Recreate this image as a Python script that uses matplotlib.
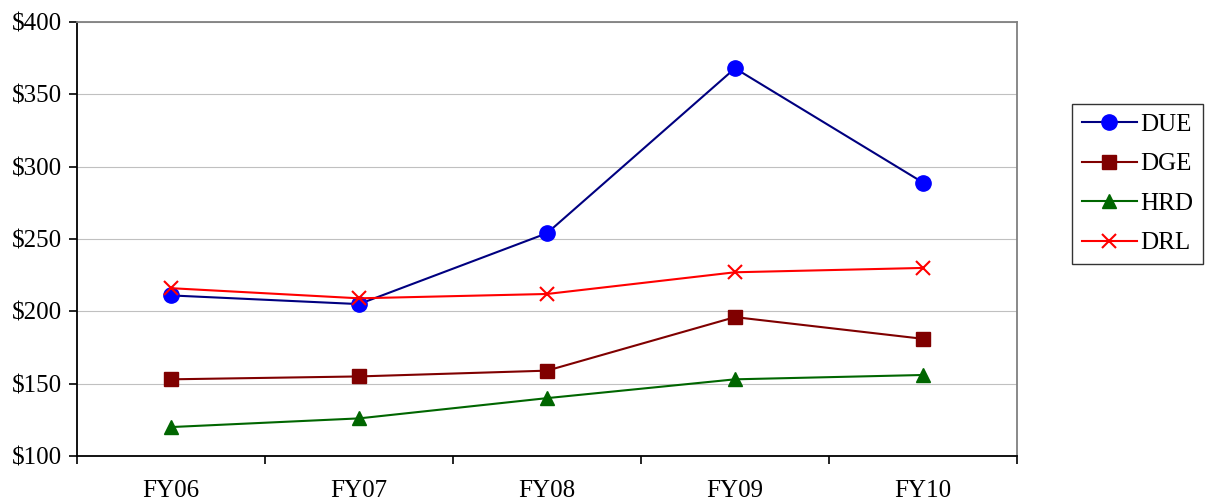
import matplotlib.pyplot as plt
from matplotlib.ticker import FixedLocator, FuncFormatter

plt.rcParams['font.family'] = ['Liberation Serif', 'DejaVu Serif']

years = ['FY06', 'FY07', 'FY08', 'FY09', 'FY10']
due = [211, 205, 254, 368, 289]
dge = [153, 155, 159, 196, 181]
hrd = [120, 126, 140, 153, 156]
drl = [216, 209, 212, 227, 230]

fig = plt.figure(figsize=(12.09, 5.04), dpi=100)
ax = fig.add_axes([77 / 1209, 1 - 456 / 504, 940 / 1209, 434 / 504])

x = [i + 0.5 for i in range(len(years))]

ax.plot(x, due, color='#000080', lw=1.5, marker='o', ms=11,
        mfc='#0000FF', mec='#0000FF', label='DUE')
ax.plot(x, dge, color='#800000', lw=1.5, marker='s', ms=10,
        mfc='#800000', mec='#800000', label='DGE')
ax.plot(x, hrd, color='#006600', lw=1.5, marker='^', ms=10,
        mfc='#006600', mec='#006600', label='HRD')
ax.plot(x, drl, color='#FF0000', lw=1.5, marker='x', ms=10,
        mew=1.5, label='DRL')

ax.set_xlim(0, 5)
ax.set_ylim(100, 400)
ax.set_yticks(range(100, 401, 50))
ax.yaxis.set_major_formatter(FuncFormatter(lambda v, p: f'${v:.0f}'))
ax.grid(axis='y', color='#C0C0C0', lw=0.8)
ax.set_axisbelow(True)

ax.set_xticks(x)
ax.set_xticklabels(years)
ax.xaxis.set_minor_locator(FixedLocator(range(0, 6)))
ax.tick_params(axis='x', which='major', length=0, pad=17, labelsize=18)
ax.tick_params(axis='x', which='minor', length=6, width=1.2, direction='out')
ax.tick_params(axis='y', length=6, width=1.2, labelsize=18, pad=5)

for s in ['left', 'bottom']:
    ax.spines[s].set_color('black')
    ax.spines[s].set_linewidth(1.3)
for s in ['top', 'right']:
    ax.spines[s].set_color('#808080')
    ax.spines[s].set_linewidth(1.3)

leg = fig.legend(loc='upper left', bbox_to_anchor=(1072 / 1209, 1 - 104 / 504),
                 frameon=True, fancybox=False, edgecolor='black', fontsize=18,
                 handlelength=2.2, labelspacing=0.68, borderpad=0.38,
                 handletextpad=0.15, borderaxespad=0)
leg.get_frame().set_linewidth(1.0)

fig.savefig('out.png', dpi=100)
